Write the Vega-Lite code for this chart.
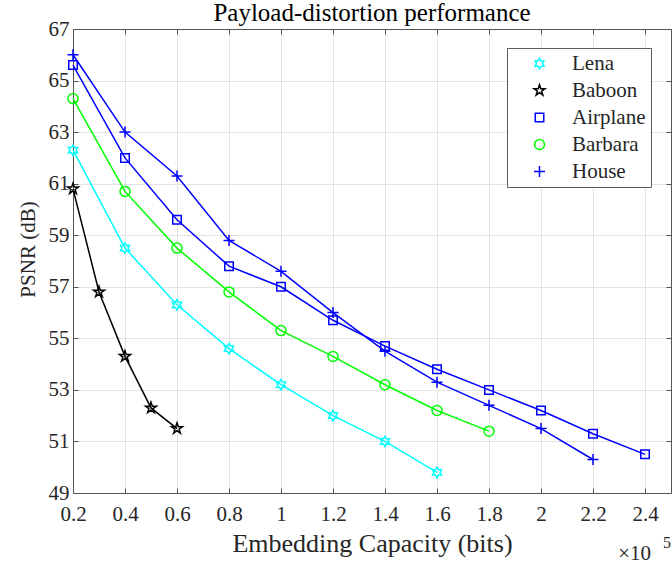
{
  "$schema": "https://vega.github.io/schema/vega-lite/v6.json",
  "width": 598,
  "height": 464,
  "autosize": {"type": "none"},
  "padding": {"left": 73, "top": 29, "right": 1, "bottom": 76},
  "background": "white",
  "config": {"view": {"stroke": null}, "font": "Liberation Serif"},
  "title": {"text": "Payload-distortion performance", "font": "Liberation Serif", "fontSize": 25, "fontWeight": "normal", "color": "#000000", "offset": -8},
  "data": {"values": [
    {"s": "Lena", "x": 0.2, "y": 62.3}, {"s": "Lena", "x": 0.4, "y": 58.5}, {"s": "Lena", "x": 0.6, "y": 56.3}, {"s": "Lena", "x": 0.8, "y": 54.6},
    {"s": "Lena", "x": 1.0, "y": 53.2}, {"s": "Lena", "x": 1.2, "y": 52.0}, {"s": "Lena", "x": 1.4, "y": 51.0}, {"s": "Lena", "x": 1.6, "y": 49.8},
    {"s": "Baboon", "x": 0.2, "y": 60.8}, {"s": "Baboon", "x": 0.3, "y": 56.8}, {"s": "Baboon", "x": 0.4, "y": 54.3}, {"s": "Baboon", "x": 0.5, "y": 52.3}, {"s": "Baboon", "x": 0.6, "y": 51.5},
    {"s": "Airplane", "x": 0.2, "y": 65.6}, {"s": "Airplane", "x": 0.4, "y": 62.0}, {"s": "Airplane", "x": 0.6, "y": 59.6}, {"s": "Airplane", "x": 0.8, "y": 57.8},
    {"s": "Airplane", "x": 1.0, "y": 57.0}, {"s": "Airplane", "x": 1.2, "y": 55.7}, {"s": "Airplane", "x": 1.4, "y": 54.7}, {"s": "Airplane", "x": 1.6, "y": 53.8},
    {"s": "Airplane", "x": 1.8, "y": 53.0}, {"s": "Airplane", "x": 2.0, "y": 52.2}, {"s": "Airplane", "x": 2.2, "y": 51.3}, {"s": "Airplane", "x": 2.4, "y": 50.5},
    {"s": "Barbara", "x": 0.2, "y": 64.3}, {"s": "Barbara", "x": 0.4, "y": 60.7}, {"s": "Barbara", "x": 0.6, "y": 58.5}, {"s": "Barbara", "x": 0.8, "y": 56.8},
    {"s": "Barbara", "x": 1.0, "y": 55.3}, {"s": "Barbara", "x": 1.2, "y": 54.3}, {"s": "Barbara", "x": 1.4, "y": 53.2}, {"s": "Barbara", "x": 1.6, "y": 52.2}, {"s": "Barbara", "x": 1.8, "y": 51.4},
    {"s": "House", "x": 0.2, "y": 66.0}, {"s": "House", "x": 0.4, "y": 63.0}, {"s": "House", "x": 0.6, "y": 61.3}, {"s": "House", "x": 0.8, "y": 58.8},
    {"s": "House", "x": 1.0, "y": 57.6}, {"s": "House", "x": 1.2, "y": 56.0}, {"s": "House", "x": 1.4, "y": 54.5}, {"s": "House", "x": 1.6, "y": 53.3},
    {"s": "House", "x": 1.8, "y": 52.4}, {"s": "House", "x": 2.0, "y": 51.5}, {"s": "House", "x": 2.2, "y": 50.3}
  ]},
  "resolve": {"axis": {"x": "independent", "y": "independent"}},
  "layer": [
    {
      "mark": {"type": "line", "strokeWidth": 1.5},
      "encoding": {
        "x": {"field": "x", "type": "quantitative",
          "scale": {"domain": [0.2, 2.5], "nice": false, "zero": false},
          "axis": {"orient": "bottom", "values": [0.2, 0.4, 0.6, 0.8, 1, 1.2, 1.4, 1.6, 1.8, 2, 2.2, 2.4], "format": "~g", "labelFlush": false,
            "grid": true, "gridColor": "#e3e3e3", "gridWidth": 1, "tickSize": -5, "tickColor": "#555555", "domainColor": "#555555",
            "labelFont": "Liberation Serif", "labelFontSize": 21, "labelColor": "#262626", "labelPadding": 15,
            "title": "Embedding Capacity (bits)", "titleFont": "Liberation Serif", "titleFontSize": 26, "titleFontWeight": "normal", "titleColor": "#262626", "titlePadding": 6}},
        "y": {"field": "y", "type": "quantitative",
          "scale": {"domain": [49, 67], "nice": false, "zero": false},
          "axis": {"orient": "left", "values": [49, 51, 53, 55, 57, 59, 61, 63, 65, 67], "labelFlush": false,
            "grid": true, "gridColor": "#e3e3e3", "gridWidth": 1, "tickSize": -5, "tickColor": "#555555", "domainColor": "#555555",
            "labelFont": "Liberation Serif", "labelFontSize": 21, "labelColor": "#262626", "labelPadding": 9,
            "title": "PSNR (dB)", "titleFont": "Liberation Serif", "titleFontSize": 21, "titleFontWeight": "normal", "titleColor": "#262626", "titlePadding": 10, "titleY": 220}},
        "color": {"field": "s", "type": "nominal",
          "scale": {"domain": ["Lena", "Baboon", "Airplane", "Barbara", "House"], "range": ["#00FFFF", "#000000", "#0000FF", "#00FF00", "#0000FF"]}}
      }
    },
    {
      "mark": {"type": "point", "filled": false, "strokeWidth": 1.5, "size": 100, "opacity": 1},
      "encoding": {
        "x": {"field": "x", "type": "quantitative",
          "axis": {"orient": "top", "values": [0.2, 0.4, 0.6, 0.8, 1, 1.2, 1.4, 1.6, 1.8, 2, 2.2, 2.4], "labels": false, "title": null,
            "grid": false, "tickSize": -5, "tickColor": "#555555", "domainColor": "#555555"}},
        "y": {"field": "y", "type": "quantitative",
          "axis": {"orient": "right", "values": [49, 51, 53, 55, 57, 59, 61, 63, 65, 67], "labels": false, "title": null,
            "grid": false, "tickSize": -5, "tickColor": "#555555", "domainColor": "#555555"}},
        "shape": {"field": "s", "type": "nominal",
          "scale": {"domain": ["Lena", "Baboon", "Airplane", "Barbara", "House"],
            "range": [
              "M0,-1.05L0.303,-0.525L0.909,-0.525L0.606,0L0.909,0.525L0.303,0.525L0,1.05L-0.303,0.525L-0.909,0.525L-0.606,0L-0.909,-0.525L-0.303,-0.525Z",
              "M0,-1.15L0.259,-0.355L1.094,-0.355L0.417,0.136L0.676,0.93L0,0.439L-0.676,0.93L-0.417,0.136L-1.094,-0.355L-0.259,-0.355Z",
              "M-0.85,-0.85H0.85V0.85H-0.85Z",
              "M1,0A1,1,0,1,1,-1,0A1,1,0,1,1,1,0Z",
              "M-1.1,0H1.1M0,-1.1V1.1"
            ]}},
        "color": {"field": "s", "type": "nominal",
          "legend": {"orient": "none", "legendX": 434, "legendY": 19, "title": null,
            "fillColor": "white", "strokeColor": "#5a5a5a", "padding": 5,
            "labelFont": "Liberation Serif", "labelFontSize": 21, "labelColor": "#262626", "labelLimit": 0,
            "symbolSize": 100, "symbolStrokeWidth": 1.5, "symbolOffset": 17, "labelOffset": 22, "rowPadding": 5}}
      }
    },
    {
      "data": {"values": [{"t": "×10", "x": 2.5, "y": 49}]},
      "mark": {"type": "text", "align": "right", "baseline": "alphabetic", "dx": -20, "dy": 67, "font": "Liberation Serif", "fontSize": 21, "color": "#262626"},
      "encoding": {
        "x": {"field": "x", "type": "quantitative", "axis": null},
        "y": {"field": "y", "type": "quantitative", "axis": null},
        "text": {"field": "t"}
      }
    },
    {
      "data": {"values": [{"t": "5", "x": 2.5, "y": 49}]},
      "mark": {"type": "text", "align": "right", "baseline": "alphabetic", "dx": 0, "dy": 55, "font": "Liberation Serif", "fontSize": 16, "color": "#262626"},
      "encoding": {
        "x": {"field": "x", "type": "quantitative", "axis": null},
        "y": {"field": "y", "type": "quantitative", "axis": null},
        "text": {"field": "t"}
      }
    }
  ]
}
